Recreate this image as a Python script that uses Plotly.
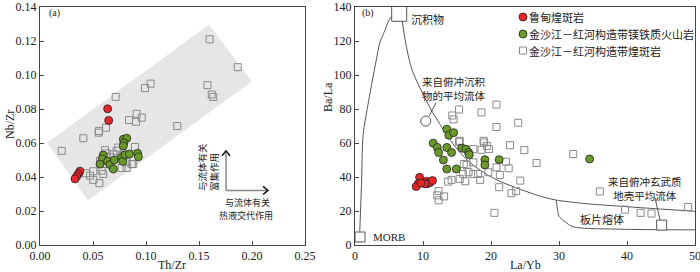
import plotly.graph_objects as go
from plotly.subplots import make_subplots

# ---------------- Panel (a) data: Th/Zr vs Nb/Zr ----------------
a_sq_x = [0.160, 0.1865, 0.158, 0.162, 0.1635, 0.1044, 0.099, 0.0714, 0.1295, 0.0912,
          0.096, 0.084, 0.0906, 0.0623, 0.0557, 0.0553, 0.0409, 0.0205, 0.0434, 0.0472,
          0.0503, 0.0503, 0.056, 0.0597, 0.0582, 0.0613, 0.0629, 0.066, 0.0692, 0.0723,
          0.0739, 0.077, 0.0818, 0.077, 0.0818, 0.0865, 0.088, 0.0896, 0.0566, 0.0613]
a_sq_y = [0.121, 0.1046, 0.094, 0.0885, 0.0871, 0.0949, 0.0923, 0.0871, 0.070, 0.0772,
          0.0749, 0.0735, 0.0725, 0.069, 0.0671, 0.0661, 0.0628, 0.0554, 0.0422, 0.0408,
          0.0434, 0.0383, 0.0364, 0.0418, 0.0437, 0.0558, 0.0539, 0.0515, 0.0533, 0.0554,
          0.0573, 0.0525, 0.0486, 0.0453, 0.0453, 0.0476, 0.0476, 0.0577, 0.0496, 0.0476]
a_gr_x = [0.0786, 0.0818, 0.0792, 0.0786, 0.0597, 0.0588, 0.0638, 0.0566, 0.066, 0.0701,
          0.0692, 0.077, 0.078, 0.0802, 0.0843, 0.0921, 0.0928]
a_gr_y = [0.0622, 0.0628, 0.0601, 0.0583, 0.0529, 0.0506, 0.0492, 0.0476, 0.0473, 0.050,
          0.0447, 0.0515, 0.0492, 0.0531, 0.0535, 0.0539, 0.0519]
a_rd_x = [0.0638, 0.0648, 0.0377, 0.0361, 0.0346, 0.033]
a_rd_y = [0.0801, 0.0733, 0.0434, 0.0418, 0.0404, 0.0389]

# grey trend field (a)
field_x = [0.0066, 0.1594, 0.200, 0.0453, 0.0066]
field_y = [0.0601, 0.1295, 0.0962, 0.0262, 0.0601]

# arrows (a)
arr_x0, arr_y0 = 0.1755, 0.0321
arr_ytop = 0.0554
arr_xright = 0.215

# ---------------- Panel (b) data: La/Yb vs Ba/La ----------------
b_sq_x = [15.3, 14.3, 14.5, 18.6, 20.8, 20.8, 24.0, 15.3, 18.9, 19.0, 19.4, 19.7, 18.6,
          22.8, 24.9, 32.1, 26.7, 22.2, 20.8, 22.6, 21.3, 36.0, 39.7, 42.0, 43.6, 49.0,
          24.3, 17.4, 16.0, 16.4, 17.4, 15.9, 16.7, 17.4, 18.1, 18.4, 15.4, 16.2, 14.2,
          13.7, 19.6, 21.2, 23.0, 23.7, 12.3, 12.1, 12.3, 13.1, 20.5, 15.4]
b_sq_y = [79.7, 76.2, 73.9, 78.0, 82.6, 69.4, 71.9, 60.7, 61.3, 60.3, 58.3, 56.4, 56.0,
          58.7, 55.8, 53.5, 48.2, 49.0, 45.7, 45.1, 41.2, 31.5, 20.8, 18.9, 18.5, 22.4,
          37.9, 56.4, 47.6, 47.1, 48.6, 41.8, 42.8, 41.8, 41.8, 38.3, 38.9, 37.5, 38.3,
          37.3, 42.8, 34.0, 30.5, 31.7, 31.7, 29.2, 26.3, 28.6, 18.9, 61.3]
b_gr_x = [13.5, 13.8, 14.5, 11.5, 12.1, 12.3, 13.5, 13.0, 14.2, 13.5, 14.9, 15.7, 16.3,
          16.7, 16.8, 19.1, 19.1, 21.2, 34.5]
b_gr_y = [68.1, 64.6, 66.1, 59.9, 57.4, 54.4, 57.4, 50.0, 54.4, 44.7, 44.7, 57.0, 56.4,
          54.4, 53.1, 50.2, 47.1, 50.2, 50.6]
b_rd_x = [9.5, 9.3, 9.0, 10.5, 10.6, 11.0, 11.4, 10.3, 9.7]
b_rd_y = [39.8, 36.0, 34.4, 37.5, 36.0, 36.6, 37.9, 36.0, 36.4]

# end-members (b)
sed_x, sed_y = [6.5], [136.0]
morb_x, morb_y = [0.74], [4.7]
sedfluid_x, sedfluid_y = [10.4], [72.9]
basfluid_x, basfluid_y = [45.1], [11.7]

# curves (b)
left_curve_x = [0.7, 0.95, 1.2, 2.0, 2.9, 3.7, 4.2, 5.1, 5.8]
left_curve_y = [8.0, 35.0, 65.0, 84.6, 104.0, 119.6, 124.4, 133.0, 136.0]
mix_curve_x = [6.9, 7.4, 8.3, 9.6, 11.0, 12.5, 13.5, 14.7, 16.5, 18.4, 20.5, 22.5, 24.5,
               27.0, 29.5, 34.0, 39.0, 44.0, 50.0]
mix_curve_y = [133.0, 120.0, 104.0, 92.0, 81.0, 71.0, 65.0, 58.0, 50.0, 44.0, 39.0, 35.5,
               32.5, 29.0, 26.5, 24.3, 22.8, 21.4, 19.8]
slab_curve_x = [29.6, 29.8, 30.0, 30.9, 32.1, 39.0, 50.0]
slab_curve_y = [26.3, 20.4, 16.9, 13.6, 10.7, 9.3, 8.9]
lead1_x, lead1_y = [10.9, 11.9], [75.8, 83.6]
lead2_x, lead2_y = [44.1, 44.9], [28.0, 14.0]

names = ["鲁甸煌斑岩", "金沙江－红河构造带镁铁质火山岩", "金沙江－红河构造带煌斑岩"]

FONT = "Liberation Serif, Noto Sans CJK SC, serif"
CJK = "Noto Sans CJK SC, Liberation Serif, sans-serif"
LINEC = "#555555"
RED = "#e8262a"
GREEN = "#6b9a2b"
SQC = "#8a8a8a"

# pixel geometry helpers (plot area: x 40..695, y 7..245)
TOP, BOT = 7, 245

def px_x(p):
    return (p - 40) / 655.0

def px_y(p):
    return (BOT - p) / float(BOT - TOP)

fig = make_subplots(rows=1, cols=2, horizontal_spacing=0.05)

# ---- panel a ----
fig.add_trace(go.Scatter(x=field_x, y=field_y, mode="lines", fill="toself",
                         fillcolor="#e6e6e6", line=dict(width=0), hoverinfo="skip",
                         showlegend=False), row=1, col=1)
fig.add_trace(go.Scatter(x=a_sq_x, y=a_sq_y, mode="markers", showlegend=False,
                         marker=dict(symbol="square-open", size=7, color=SQC,
                                     line=dict(width=1, color=SQC))), row=1, col=1)
fig.add_trace(go.Scatter(x=a_gr_x, y=a_gr_y, mode="markers", showlegend=False,
                         marker=dict(symbol="circle", size=8, color=GREEN,
                                     line=dict(width=0.8, color="#222"))), row=1, col=1)
fig.add_trace(go.Scatter(x=a_rd_x, y=a_rd_y, mode="markers", showlegend=False,
                         marker=dict(symbol="circle", size=8, color=RED,
                                     line=dict(width=0.8, color="#222"))), row=1, col=1)

# ---- panel b curves ----
for cx, cy in [(left_curve_x, left_curve_y), (mix_curve_x, mix_curve_y),
               (slab_curve_x, slab_curve_y), (lead1_x, lead1_y), (lead2_x, lead2_y)]:
    fig.add_trace(go.Scatter(x=cx, y=cy, mode="lines",
                             line=dict(color=LINEC, width=1, shape="spline", smoothing=0.8),
                             hoverinfo="skip", showlegend=False), row=1, col=2)

# end members
fig.add_trace(go.Scatter(x=sed_x, y=sed_y, mode="markers", showlegend=False,
                         marker=dict(symbol="square", size=15, color="white",
                                     line=dict(width=1, color=LINEC))), row=1, col=2)
fig.add_trace(go.Scatter(x=morb_x, y=morb_y, mode="markers", showlegend=False,
                         marker=dict(symbol="square", size=10, color="white",
                                     line=dict(width=1, color=LINEC))), row=1, col=2)
fig.add_trace(go.Scatter(x=basfluid_x, y=basfluid_y, mode="markers", showlegend=False,
                         marker=dict(symbol="square", size=10, color="white",
                                     line=dict(width=1, color=LINEC))), row=1, col=2)
fig.add_trace(go.Scatter(x=sedfluid_x, y=sedfluid_y, mode="markers", showlegend=False,
                         marker=dict(symbol="circle", size=10, color="white",
                                     line=dict(width=1, color=LINEC))), row=1, col=2)

# data b (each in its own legend box so the entries can be placed precisely;
# the entry text itself is drawn as annotations right next to the symbols)
fig.add_trace(go.Scatter(x=b_sq_x, y=b_sq_y, mode="markers", name=" ", legend="legend3",
                         marker=dict(symbol="square-open", size=7, color=SQC,
                                     line=dict(width=1, color=SQC))), row=1, col=2)
fig.add_trace(go.Scatter(x=b_gr_x, y=b_gr_y, mode="markers", name=" ", legend="legend2",
                         marker=dict(symbol="circle", size=8, color=GREEN,
                                     line=dict(width=0.8, color="#222"))), row=1, col=2)
fig.add_trace(go.Scatter(x=b_rd_x, y=b_rd_y, mode="markers", name=" ", legend="legend",
                         marker=dict(symbol="circle", size=8, color=RED,
                                     line=dict(width=0.8, color="#222"))), row=1, col=2)

axis_common = dict(showline=True, mirror=True, linecolor="#444", linewidth=1,
                   ticks="inside", ticklen=4, tickcolor="#444", showgrid=False,
                   zeroline=False, automargin=False, ticklabeloverflow="allow",
                   tickfont=dict(family=FONT, size=12, color="#222"))

fig.update_xaxes(range=[0, 0.25], dtick=0.05, tickformat=".2f", row=1, col=1, **axis_common)
fig.update_yaxes(range=[0, 0.14], dtick=0.02, tickformat=".2f", row=1, col=1, **axis_common)
fig.update_xaxes(range=[0, 50], dtick=10, row=1, col=2, **axis_common)
fig.update_yaxes(range=[0, 140], dtick=20, row=1, col=2, **axis_common)
fig.update_xaxes(domain=[0, 265 / 655], row=1, col=1)
fig.update_xaxes(domain=[315 / 655, 1], row=1, col=2)
fig.update_yaxes(domain=[0, 1])

# arrows in panel a (shapes)
dxp = 0.0038
dyp = 0.0029
shapes = [
    dict(type="line", xref="x", yref="y", x0=arr_x0, y0=arr_y0, x1=arr_x0, y1=arr_ytop,
         line=dict(color="#888", width=1.5)),
    dict(type="line", xref="x", yref="y", x0=arr_x0, y0=arr_y0, x1=arr_xright, y1=arr_y0,
         line=dict(color="#888", width=1.5)),
    dict(type="path", xref="x", yref="y",
         path=f"M {arr_x0 - dxp},{arr_ytop - dyp} L {arr_x0},{arr_ytop} L {arr_x0 + dxp},{arr_ytop - dyp}",
         line=dict(color="#111", width=1.5)),
    dict(type="path", xref="x", yref="y",
         path=f"M {arr_xright - 0.0045},{arr_y0 + 0.0024} L {arr_xright},{arr_y0} L {arr_xright - 0.0045},{arr_y0 - 0.0024}",
         line=dict(color="#111", width=1.5)),
]

def ann(text, x, y, xref, yref, size=11, xanchor="center", yanchor="middle", angle=0,
        font=CJK, align="center"):
    return dict(text=text, x=x, y=y, xref=xref, yref=yref, showarrow=False,
                xanchor=xanchor, yanchor=yanchor, textangle=angle, align=align,
                borderpad=0,
                font=dict(family=font, size=size, color="#222"))

annotations = [
    # axis titles
    ann("Nb/Zr", px_x(10), px_y(125), "paper", "paper", size=12, angle=-90, font=FONT),
    ann("Th/Zr", px_x(172), px_y(265), "paper", "paper", size=12, font=FONT),
    ann("Ba/La", px_x(328), px_y(97), "paper", "paper", size=12, angle=-90, font=FONT),
    ann("La/Yb", px_x(525), px_y(265), "paper", "paper", size=12, font=FONT),
    # panel labels
    ann("(a)", px_x(54), px_y(13), "paper", "paper", size=10, font=FONT),
    ann("(b)", px_x(368), px_y(13), "paper", "paper", size=10, font=FONT),
    # panel a arrow texts
    ann("与流体有关<br>富集作用", px_x(208), px_y(192), "paper", "paper", size=9.5,
        yanchor="bottom", angle=-90, align="left"),
    ann("与流体有关", px_x(247), px_y(202), "paper", "paper", size=9),
    ann("热液交代作用", px_x(246), px_y(215), "paper", "paper", size=9),
    # panel b texts
    ann("沉积物", 10.7, 133, "x2", "y2", size=11),
    ann("来自俯冲沉积<br>物的平均流体", 14.5, 92.0, "x2", "y2", size=10.5),
    ann("来自俯冲玄武质<br>地壳平均流体", 42.6, 33.2, "x2", "y2", size=10.5),
    ann("板片熔体", 36.3, 15.2, "x2", "y2", size=11),
    ann("MORB", 2.5, 4.9, "x2", "y2", size=11, xanchor="left", font=FONT),
    # legend texts
    ann(names[0], px_x(528), px_y(17), "paper", "paper", size=11, xanchor="left"),
    ann(names[1], px_x(528), px_y(34), "paper", "paper", size=11, xanchor="left"),
    ann(names[2], px_x(528), px_y(50.5), "paper", "paper", size=11, xanchor="left"),
]

leg_common = dict(xanchor="left", yanchor="middle", bgcolor="rgba(0,0,0,0)",
                  font=dict(family=CJK, size=11, color="#222"),
                  itemsizing="trace", itemwidth=30, borderwidth=0)
lx = px_x(503)

fig.update_layout(
    width=700, height=272,
    margin=dict(l=40, r=5, t=TOP, b=272 - BOT, autoexpand=False),
    paper_bgcolor="white", plot_bgcolor="white",
    shapes=shapes, annotations=annotations,
    showlegend=True,
    legend=dict(x=lx, y=px_y(17), **leg_common),
    legend2=dict(x=lx, y=px_y(34), **leg_common),
    legend3=dict(x=lx, y=px_y(50.5), **leg_common),
    font=dict(family=FONT),
)

fig.write_html("out.html", config={"displayModeBar": False},
               post_script="document.body.style.margin='0';document.body.style.padding='0';")
